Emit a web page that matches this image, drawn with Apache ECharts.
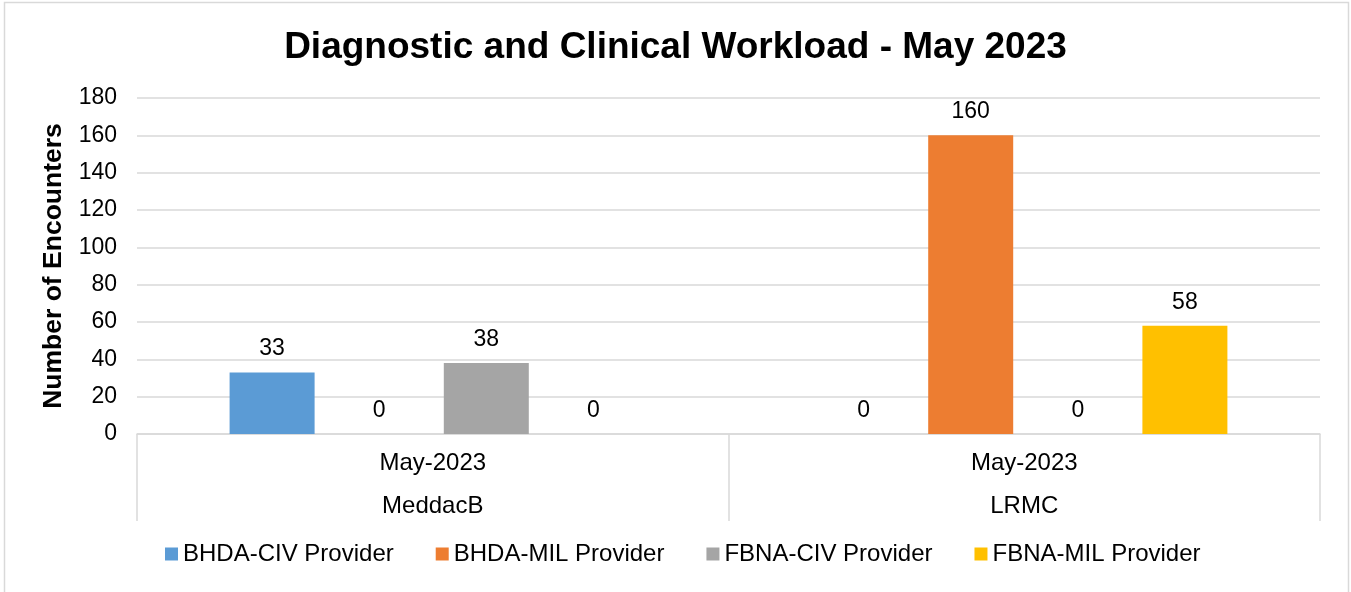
<!DOCTYPE html>
<html>
<head>
<meta charset="utf-8">
<script src="https://cdn.jsdelivr.net/npm/echarts@6/dist/echarts.min.js"></script>
<style>html,body{margin:0;padding:0;background:#fff;}#c{width:1351px;height:592px;}</style>
</head>
<body>
<div id="c"></div>
<script>
var sites = ['MeddacB', 'LRMC'];
var months = ['May-2023', 'May-2023'];
var seriesNames = ['BHDA-CIV Provider', 'BHDA-MIL Provider', 'FBNA-CIV Provider', 'FBNA-MIL Provider'];
var bhdaCiv = [33, 0];
var bhdaMil = [0, 160];
var fbnaCiv = [38, 0];
var fbnaMil = [0, 58];
var colors = ['#5B9BD5', '#ED7D31', '#A5A5A5', '#FFC000'];

var values = [bhdaCiv, bhdaMil, fbnaCiv, fbnaMil];
var font = '"Liberation Sans", Arial, sans-serif';
var chart = echarts.init(document.getElementById('c'));
chart.setOption({
  animation: false,
  textStyle: { fontFamily: font },
  graphic: [{
    type: 'rect', shape: { x: 4.5, y: 2.5, width: 1344, height: 600 },
    style: { fill: 'none', stroke: '#d9d9d9', lineWidth: 1.5 }, z: -10
  }],
  title: {
    text: 'Diagnostic and Clinical Workload - May 2023',
    left: 'center', top: 24,
    textStyle: { fontFamily: font, fontSize: 37, fontWeight: 'bold', color: '#000' }
  },
  grid: { left: 137, right: 31, top: 98, bottom: 158 },
  legend: {
    data: seriesNames, bottom: 21, left: 160,
    itemWidth: 13, itemHeight: 13, itemGap: 42, icon: 'rect',
    textStyle: { fontFamily: font, fontSize: 24, color: '#000' }
  },
  xAxis: {
    type: 'category', data: sites,
    axisLine: { lineStyle: { color: '#d9d9d9', width: 1.5 } },
    axisTick: { show: true, length: 87, lineStyle: { color: '#d9d9d9', width: 1.5 } },
    axisLabel: {
      margin: 8,
      formatter: function (v, i) { return '{a|' + months[i] + '}\n{b|' + v + '}'; },
      rich: {
        a: { fontFamily: font, fontSize: 24, color: '#000', lineHeight: 43 },
        b: { fontFamily: font, fontSize: 24, color: '#000', lineHeight: 43 }
      }
    }
  },
  yAxis: {
    type: 'value', min: 0, max: 180, interval: 20,
    name: 'Number of Encounters', nameLocation: 'middle', nameGap: 70,
    nameTextStyle: { fontFamily: font, fontSize: 26.5, fontWeight: 'bold', color: '#000' },
    axisLine: { show: false }, axisTick: { show: false },
    axisLabel: { margin: 20, fontFamily: font, fontSize: 23, color: '#000' },
    splitLine: { lineStyle: { color: '#d9d9d9', width: 1.5 } }
  },
  series: seriesNames.map(function (n, k) {
    return {
      name: n, type: 'bar', data: values[k], barWidth: 85, barGap: '26%',
      itemStyle: { color: colors[k] },
      label: { show: true, position: 'top', distance: 12, fontFamily: font, fontSize: 23, color: '#000' }
    };
  })
});
</script>
</body>
</html>
